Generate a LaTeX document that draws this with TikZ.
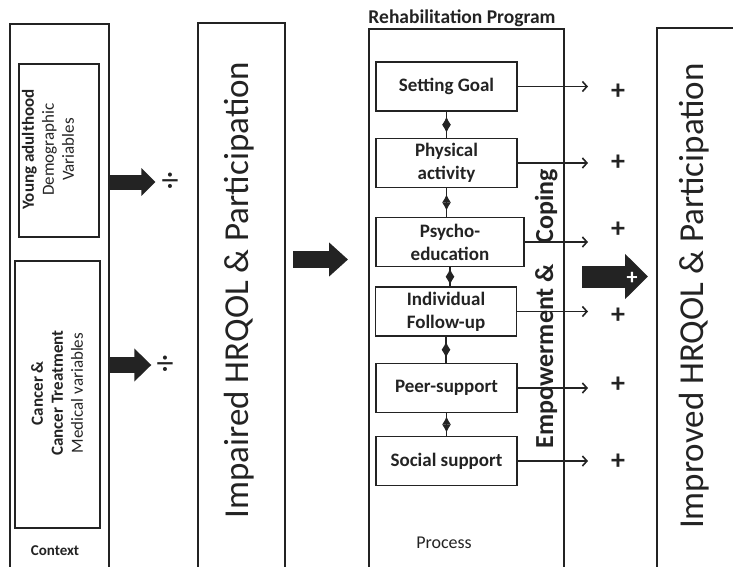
\documentclass[tikz,border=0pt]{standalone}
\usepackage{fontspec}
\setmainfont{Carlito}
\usetikzlibrary{arrows.meta}
\definecolor{ink}{HTML}{232323}

\begin{document}
\begin{tikzpicture}[x=1pt, y=-1pt,
    panel/.style = {draw=ink, line width=1.8pt, anchor=north west, inner sep=0pt},
    item/.style = {draw=ink, line width=1.6pt, minimum width=141pt, minimum height=49pt, inner sep=1pt, align=center, text=ink, font=\fontsize{19}{23}\selectfont\bfseries},
    big/.style = {rotate=90, anchor=base, text=ink, font=\fontsize{35}{40}\selectfont},
    ctxtxt/.style = {rotate=90, align=center, text=ink, font=\fontsize{17}{20}\selectfont},
    sign/.style = {inner sep=0pt, text=ink, font=\fontsize{28}{28}\selectfont\bfseries},
    fatarrow/.style = {draw=ink, line width=#1},
    effect/.style = {draw=ink, line width=1.6pt, -{Straight Barb[length=4.5pt,width=10pt]}},
    twohead/.style = {draw=ink, line width=1.2pt, {Latex[length=8pt,width=9pt]}-{Latex[length=8pt,width=9pt]}}]

\useasboundingbox (0,0) rectangle (733,566);
\clip (0,0) rectangle (733,566);

% columns
\node[panel, minimum width=99pt, minimum height=600pt] (ctx) at (9,23) {};
\node[panel, minimum width=87pt, minimum height=600pt] (imp) at (197,22) {};
\node[panel, minimum width=195pt, minimum height=600pt] (rehab) at (368,28) {};
\node[panel, minimum width=120pt, minimum height=600pt] (impr) at (656,27) {};

% context
\node[panel, line width=1.6pt, minimum width=80pt, minimum height=173pt] (demo) at (18,63) {};
\node[panel, line width=1.6pt, minimum width=85pt, minimum height=267pt] (med) at (14,260) {};
\node[ctxtxt] (demotxt) at (48,149.5) {\textbf{Young adulthood}\\Demographic\\Variables};
\node[ctxtxt] (medtxt) at (57,393) {\textbf{Cancer \&}\\\textbf{Cancer Treatment}\\Medical variables};
\node[text=ink, font=\fontsize{15}{17}\selectfont\bfseries] (context) at (55,551) {Context};

\node[sign, font=\fontsize{34}{34}\selectfont] (div1) at (170,182) {÷};
\node[sign, font=\fontsize{34}{34}\selectfont] (div2) at (165,365) {÷};
\draw[fatarrow=15pt, -{Triangle[length=14pt,width=27pt]}, shorten >=6pt] (ctx.east |- div1) -- (div1.west);
\draw[fatarrow=16pt, -{Triangle[length=17pt,width=32pt]}, shorten >=5pt] (ctx.east |- div2) -- (div2.west);

% outcome columns
\node[big] (imptxt) at (248,290) {Impaired HRQOL \& Participation};
\node[big] (imprtxt) at (703,296) {Improved HRQOL \& Participation};

\coordinate (a1) at (293,259.5);
\draw[fatarrow=17pt, -{Triangle[length=19pt,width=33pt]}, shorten >=20pt] (a1) -- (a1 -| rehab.west);

% rehabilitation program
\node[anchor=base, text=ink, font=\fontsize{19.5}{21}\selectfont\bfseries] (title) at (462,23.5) {Rehabilitation Program};
\node[item] (sg) at (446.5,86.5) {Setting Goal};
\node[item] (pa) at (446.5,163) {Physical\\activity};
\node[item, minimum width=148pt] (pe) at (450,242) {Psycho-\\education};
\node[item] (iu) at (446,311.5) {Individual\\Follow-up};
\node[item] (ps) at (446.5,388) {Peer-support};
\node[item] (ss) at (446.5,461) {Social support};
\node[text=ink, font=\fontsize{18}{20}\selectfont] (process) at (444,543) {Process};

\foreach \a/\b in {sg/pa, pa/pe, pe/iu, iu/ps, ps/ss} {
    \draw[draw=ink, line width=1.2pt] (\a.south) -- (\a.south |- \b.north) coordinate[midway] (m\a);
    \draw[twohead] ([yshift=8pt]m\a) -- ([yshift=-8pt]m\a);
}

\node[rotate=90, anchor=base, text=ink, font=\fontsize{26}{30}\selectfont\bfseries] (emp) at (553,308.5) {Empowerment \&\hspace{0.8em}Coping};

\coordinate (tipx) at (588,0);
\foreach \b in {sg, pa, pe, iu, ps, ss}
    \draw[effect] (\b.east) -- (\b.east -| tipx);

\foreach \y [count=\i] in {92,163,230,316,385,462}
    \node[sign] (plus\i) at (618,\y) {+};

\coordinate (a2) at (582,276.5);
\draw[fatarrow=22pt, -{Triangle[length=23pt,width=44pt]}, shorten >=8pt] (a2) -- (a2 -| impr.west);
\node[sign, text=white, font=\fontsize{22}{22}\selectfont\bfseries] (wplus) at (632,278) {+};
\end{tikzpicture}
\end{document}
